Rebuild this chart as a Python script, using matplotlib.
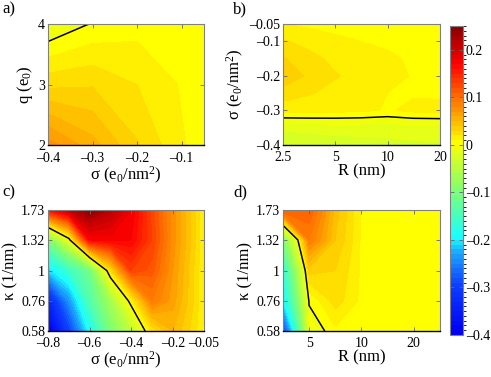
import numpy as np
import matplotlib
matplotlib.use('Agg')
import matplotlib.pyplot as plt
from matplotlib.colors import LinearSegmentedColormap, ListedColormap, BoundaryNorm

plt.rcParams['font.family'] = ['Liberation Serif', 'DejaVu Serif']
plt.rcParams['mathtext.fontset'] = 'custom'
plt.rcParams['mathtext.rm'] = 'Liberation Serif'
plt.rcParams['mathtext.it'] = 'Liberation Serif:italic'

# a) q vs sigma
a_sigma = [-0.4, -0.3, -0.2, -0.1, -0.05]
a_q = [2, 3, 4]
a_vals = [[0.075, 0.054, 0.031, 0.011, 0.006],
          [0.027, 0.029, 0.020, 0.009, 0.005],
          [-0.011, 0.001, 0.006, 0.007, 0.004]]

# b) sigma vs R
b_R = [2.5, 3.5, 5, 7, 10, 14, 20]
b_sigma = [-0.4, -0.35, -0.3, -0.25, -0.2, -0.15, -0.1, -0.05]
b_vals = [[-0.029, -0.027, -0.025, -0.024, -0.023, -0.022, -0.021],
          [-0.018, -0.017, -0.016, -0.016, -0.016, -0.015, -0.015],
          [0.0136, 0.0136, 0.013, 0.012, 0.009, 0.0125, 0.0136],
          [0.026, 0.021, 0.016, 0.012, 0.010, 0.009, 0.008],
          [0.037, 0.028, 0.021, 0.015, 0.012, 0.0095, 0.008],
          [0.031, 0.023, 0.017, 0.013, 0.011, 0.009, 0.008],
          [0.021, 0.017, 0.012, 0.010, 0.009, 0.008, 0.007],
          [0.010, 0.008, 0.007, 0.006, 0.005, 0.005, 0.005]]

# c) kappa vs sigma
c_sigma = [-0.8, -0.7, -0.6, -0.5, -0.4, -0.3, -0.2, -0.1, -0.05]
kappa = [0.58, 0.76, 1.0, 1.32, 1.73]
c_vals = [[-0.40, -0.30, -0.19, -0.10, -0.045, 0.022, 0.050, 0.025, 0.008],
          [-0.34, -0.24, -0.14, -0.067, 0.010, 0.090, 0.065, 0.030, 0.010],
          [-0.21, -0.16, -0.11, 0.0225, 0.130, 0.115, 0.070, 0.030, 0.010],
          [-0.10, -0.01, 0.170, 0.175, 0.170, 0.130, 0.075, 0.035, 0.010],
          [0.16, 0.21, 0.245, 0.215, 0.180, 0.125, 0.075, 0.035, 0.010]]

# d) kappa vs R
d_R = [3.54, 5, 7.07, 10, 14.1, 20, 28.3]
d_vals = [[-0.30, -0.010, 0.008, 0.006, 0.005, 0.005, 0.005],
          [-0.20, 0.002, 0.025, 0.007, 0.005, 0.005, 0.005],
          [-0.17, 0.035, 0.030, 0.008, 0.005, 0.005, 0.005],
          [-0.10, 0.090, 0.040, 0.008, 0.005, 0.005, 0.005],
          [0.12, 0.11, 0.045, 0.008, 0.005, 0.005, 0.005]]

vmin, vmax = -0.4, 0.25
levels = np.linspace(vmin, vmax, 66)

# jet-like map: blue at -0.4, cyan at -0.2, yellow at 0, dark red at 0.25
anchors = [(-0.4, (0.0, 0.0, 0.95)), (-0.3, (0.05, 0.25, 1.0)), (-0.24, (0.1, 0.6, 1.0)),
           (-0.2, (0.1, 1.0, 1.0)), (-0.1, (0.5, 1.0, 0.45)), (0.0, (1.0, 1.0, 0.0)),
           (0.0833, (1.0, 0.5, 0.0)), (0.1667, (1.0, 0.0, 0.0)), (0.25, (0.5, 0.0, 0.0))]
base = LinearSegmentedColormap.from_list('pj', [((v - vmin) / (vmax - vmin), c) for v, c in anchors])
band_cmap = ListedColormap([base((lo - vmin) / (vmax - vmin)) for lo in levels[:-1]])
bnorm = BoundaryNorm(levels, band_cmap.N)

fig = plt.figure(figsize=(4.91, 3.77), dpi=100)
W, H = 491.0, 377.0
def box(l, r, t, b):
    return [l / W, (H - b) / H, (r - l) / W, (b - t) / H]

ax_a = fig.add_axes(box(48, 204, 24, 145))
ax_b = fig.add_axes(box(283, 440, 24, 145))
ax_c = fig.add_axes(box(48, 204, 210, 331))
ax_d = fig.add_axes(box(283, 440, 210, 331))
cax = fig.add_axes(box(450, 463, 26, 335))

panels = [(ax_a, a_sigma, a_q, a_vals), (ax_b, b_R, b_sigma, b_vals),
          (ax_c, c_sigma, kappa, c_vals), (ax_d, d_R, kappa, d_vals)]
for ax, xs, ys, zs in panels:
    X, Y = np.meshgrid(xs, ys)
    Z = np.array(zs)
    cs = ax.contourf(X, Y, Z, levels=levels, cmap=band_cmap, norm=bnorm)
    ax.contour(X, Y, Z, levels=[0], colors='k', linewidths=1.1)

ax_b.set_xscale('log')
ax_c.set_yscale('log')
ax_d.set_xscale('log')
ax_d.set_yscale('log')

m = '\u2013'
ax_a.set_xlim(-0.4, -0.05)
ax_a.set_ylim(2, 4)
ax_a.set_xticks([-0.4, -0.3, -0.2, -0.1])
ax_a.set_xticklabels([m + '0.4', m + '0.3', m + '0.2', m + '0.1'])
ax_a.set_yticks([2, 3, 4])
ax_a.set_xlabel('σ (e$_0$/nm$^2$)')
ax_a.set_ylabel('q (e$_0$)')

ax_b.set_xlim(2.5, 20)
ax_b.set_ylim(-0.4, -0.05)
ax_b.set_xticks([2.5, 5, 10, 20])
ax_b.set_xticklabels(['2.5', '5', '10', '20'])
ax_b.set_yticks([-0.4, -0.3, -0.2, -0.1, -0.05])
ax_b.set_yticklabels([m + '0.4', m + '0.3', m + '0.2', m + '0.1', m + '0.05'])
ax_b.set_xlabel('R (nm)')
ax_b.set_ylabel('σ (e$_0$/nm$^2$)')

ax_c.set_xlim(-0.8, -0.05)
ax_c.set_ylim(0.58, 1.73)
ax_c.set_xticks([-0.8, -0.6, -0.4, -0.2, -0.05])
ax_c.set_xticklabels([m + '0.8', m + '0.6', m + '0.4', m + '0.2', m + '0.05'])
ax_c.set_xlabel('σ (e$_0$/nm$^2$)')
ax_c.set_ylabel('κ (1/nm)')

ax_d.set_xlim(3.54, 28.3)
ax_d.set_ylim(0.58, 1.73)
ax_d.set_xticks([5, 10, 20])
ax_d.set_xticklabels(['5', '10', '20'])
ax_d.set_xlabel('R (nm)')
ax_d.set_ylabel('κ (1/nm)')

for ax in (ax_c, ax_d):
    ax.set_yticks(kappa)
    ax.set_yticklabels(['0.58', '0.76', '1', '1.32', '1.73'])

for ax in (ax_a, ax_b, ax_c, ax_d):
    ax.minorticks_off()
    ax.tick_params(direction='in', top=True, right=True, length=3, width=0.6,
                   color='0.4', labelsize=10, pad=2)
    ax.tick_params(axis='x', pad=4)
    ax.xaxis.label.set_size(12)
    ax.yaxis.label.set_size(12)
    ax.xaxis.labelpad = 0
    ax.yaxis.labelpad = 2
    for side in ('top', 'right', 'left'):
        ax.spines[side].set_color('0.5')
        ax.spines[side].set_linewidth(0.8)
    ax.spines['bottom'].set_color('k')
    ax.spines['bottom'].set_linewidth(1.0)
ax_a.tick_params(axis='x', pad=5)

cb = fig.colorbar(cs, cax=cax, ticks=[-0.4, -0.3, -0.2, -0.1, 0, 0.1, 0.2])
cb.ax.set_yticklabels([m + '0.4', m + '0.3', m + '0.2', m + '0.1', '0', '0.1', '0.2'])
cb.ax.tick_params(direction='in', left=True, right=True, length=3, width=0.6,
                  color='0.4', labelsize=10, pad=2)
cb.outline.set_edgecolor('0.5')
cb.outline.set_linewidth(0.8)

for lab, x, y in [('a)', 2, 9), ('b)', 233, 9), ('c)', 2, 192), ('d)', 233, 192)]:
    fig.text(x / W, 1 - y / H, lab, fontsize=12, va='center', ha='left')

fig.savefig('out.png', dpi=100)
